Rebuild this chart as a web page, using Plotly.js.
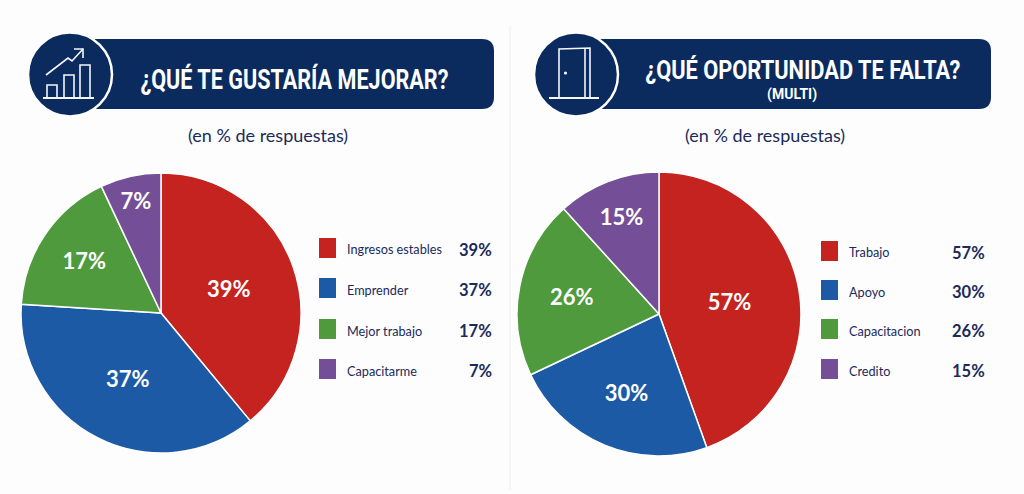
<!DOCTYPE html>
<html><head><meta charset="utf-8">
<script src="https://cdn.plot.ly/plotly-3.0.1.min.js"></script>
<style>html,body{margin:0;padding:0;background:#fdfdfd}#c{width:1024px;height:494px}</style></head>
<body><div id="c"></div>
<script>
const colors = ['#c4231f','#1d5aa5','#4e9a3d','#744f97'];
const catsA = ['Ingresos estables','Emprender','Mejor trabajo','Capacitarme'];
const valsA = [39,37,17,7];
const catsB = ['Trabajo','Apoyo','Capacitacion','Credito'];
const valsB = [57,30,26,15];
const titleA = '¿QUÉ TE GUSTARÍA MEJORAR?';
const titleB = '¿QUÉ OPORTUNIDAD TE FALTA?';
const subtitleB = '(MULTI)';
const note = '(en % de respuestas)';

const W=1024,H=494,navy='#0b2b5e',ink='#1b2a5a';
const X=p=>p/W, Y=p=>1-p/H;
const P=pts=>pts.map((q,i)=>(i?'L':'M')+X(q[0])+','+Y(q[1])).join(' ');
const rect=(x0,y0,x1,y1,fill)=>({type:'rect',layer:'below',xref:'paper',yref:'paper',x0:X(x0),x1:X(x1),y0:Y(y1),y1:Y(y0),fillcolor:fill,line:{width:0}});
const circ=(cx,cy,r,fill,line,lw)=>({type:'circle',xref:'paper',yref:'paper',x0:X(cx-r),x1:X(cx+r),y0:Y(cy+r),y1:Y(cy-r),fillcolor:fill,line:{color:line||fill,width:lw||0}});
const stroke=(pts,w)=>({type:'path',xref:'paper',yref:'paper',path:P(pts),line:{color:'#f4f6fa',width:w||1.6},fillcolor:'rgba(0,0,0,0)'});
function banner(x0,y0,x1,y1,r){
  const c=(x,y)=>X(x)+','+Y(y);
  return {type:'path',xref:'paper',yref:'paper',fillcolor:navy,line:{width:0},
    path:`M${c(x0,y0)} L${c(x1-r,y0)} Q${c(x1,y0)} ${c(x1,y0+r)} L${c(x1,y1-r)} Q${c(x1,y1)} ${c(x1-r,y1)} L${c(x0,y1)} Z`};
}
const shapes=[
  rect(509.5,26,510.5,490,'#f0f0f1'),
  banner(85,39,494,109,12), circ(70,74.5,42,navy,'#ffffff',2.5),
  banner(590,39,991,109,12), circ(576,74.5,42,navy,'#ffffff',2.5),
  stroke([[47,97],[47,85],[57,85],[57,97]]),
  stroke([[64,97],[64,75],[74,75],[74,97]]),
  stroke([[80,97],[80,65],[90,65],[90,97]]),
  stroke([[43,98],[94,98]],1.8),
  stroke([[46,75],[68,58],[72,61],[83,49]]),
  stroke([[74,49],[83,49],[83,58]]),
  stroke([[559,97],[559,49],[590,48],[590,97]]),
  stroke([[585,48],[585,97]]),
  stroke([[549,98],[599,98]],1.8),
  circ(565.5,73,1.6,'#f4f6fa')
];
const ann=[];
const text=(x,y,t,size,color,anchor,family,weight)=>ann.push({xref:'paper',yref:'paper',x:X(x),y:Y(y),xanchor:anchor||'center',yanchor:'middle',showarrow:false,
  text:t,font:{size,color,family:family||'Lato',weight:weight||400}});
const cond='Roboto';
text(294,80,titleA,27,'#ffffff','center',cond,700);
text(803,70,titleB,26,'#ffffff','center',cond,700);
text(792,95,subtitleB,14,'#ffffff','center',cond,700);
text(268,135,note,18,ink);
text(765,135,note,18,ink);
function legend(cats,vals,sx,tx,vx,ys){
  cats.forEach((c,i)=>{
    shapes.push(rect(sx,ys[i]-10,sx+17,ys[i]+10,colors[i]));
    text(tx,ys[i]+1.5,c,12.7,ink,'left');
    text(vx,ys[i]+2,vals[i]+'%',16.5,ink,'right','Lato',700);
  });
}
legend(catsA,valsA,319,345,494,[248,288,329,369]);
legend(catsB,valsB,821,847,987,[251,290,329,369]);

function pie(cats,vals,cx,cy,r){
  return {type:'pie',labels:cats,values:vals,sort:false,direction:'clockwise',rotation:0,
    domain:{x:[X(cx-r),X(cx+r)],y:[Y(cy+r),Y(cy-r)]},
    marker:{colors:colors,line:{color:'#ffffff',width:1.5}},
    texttemplate:'%{value}%',textinfo:'text',textposition:'inside',insidetextorientation:'horizontal',
    insidetextfont:{color:'#ffffff',size:22,family:'Lato',weight:700},hoverinfo:'label+value'};
}
Plotly.newPlot('c',[pie(catsA,valsA,161,313,140),pie(catsB,valsB,659,314,142)],
 {width:W,height:H,margin:{l:0,r:0,t:0,b:0},paper_bgcolor:'#fdfdfd',showlegend:false,shapes,annotations:ann},
 {displayModeBar:false,staticPlot:true}).then(()=>{
   const widths={[titleA]:308,[titleB]:315,[subtitleB]:50};
   document.querySelectorAll('.annotation-text').forEach(t=>{
     const w=widths[t.textContent];
     if(w){t.setAttribute('textLength',w);t.setAttribute('lengthAdjust','spacingAndGlyphs');}
   });
 });
</script></body></html>
